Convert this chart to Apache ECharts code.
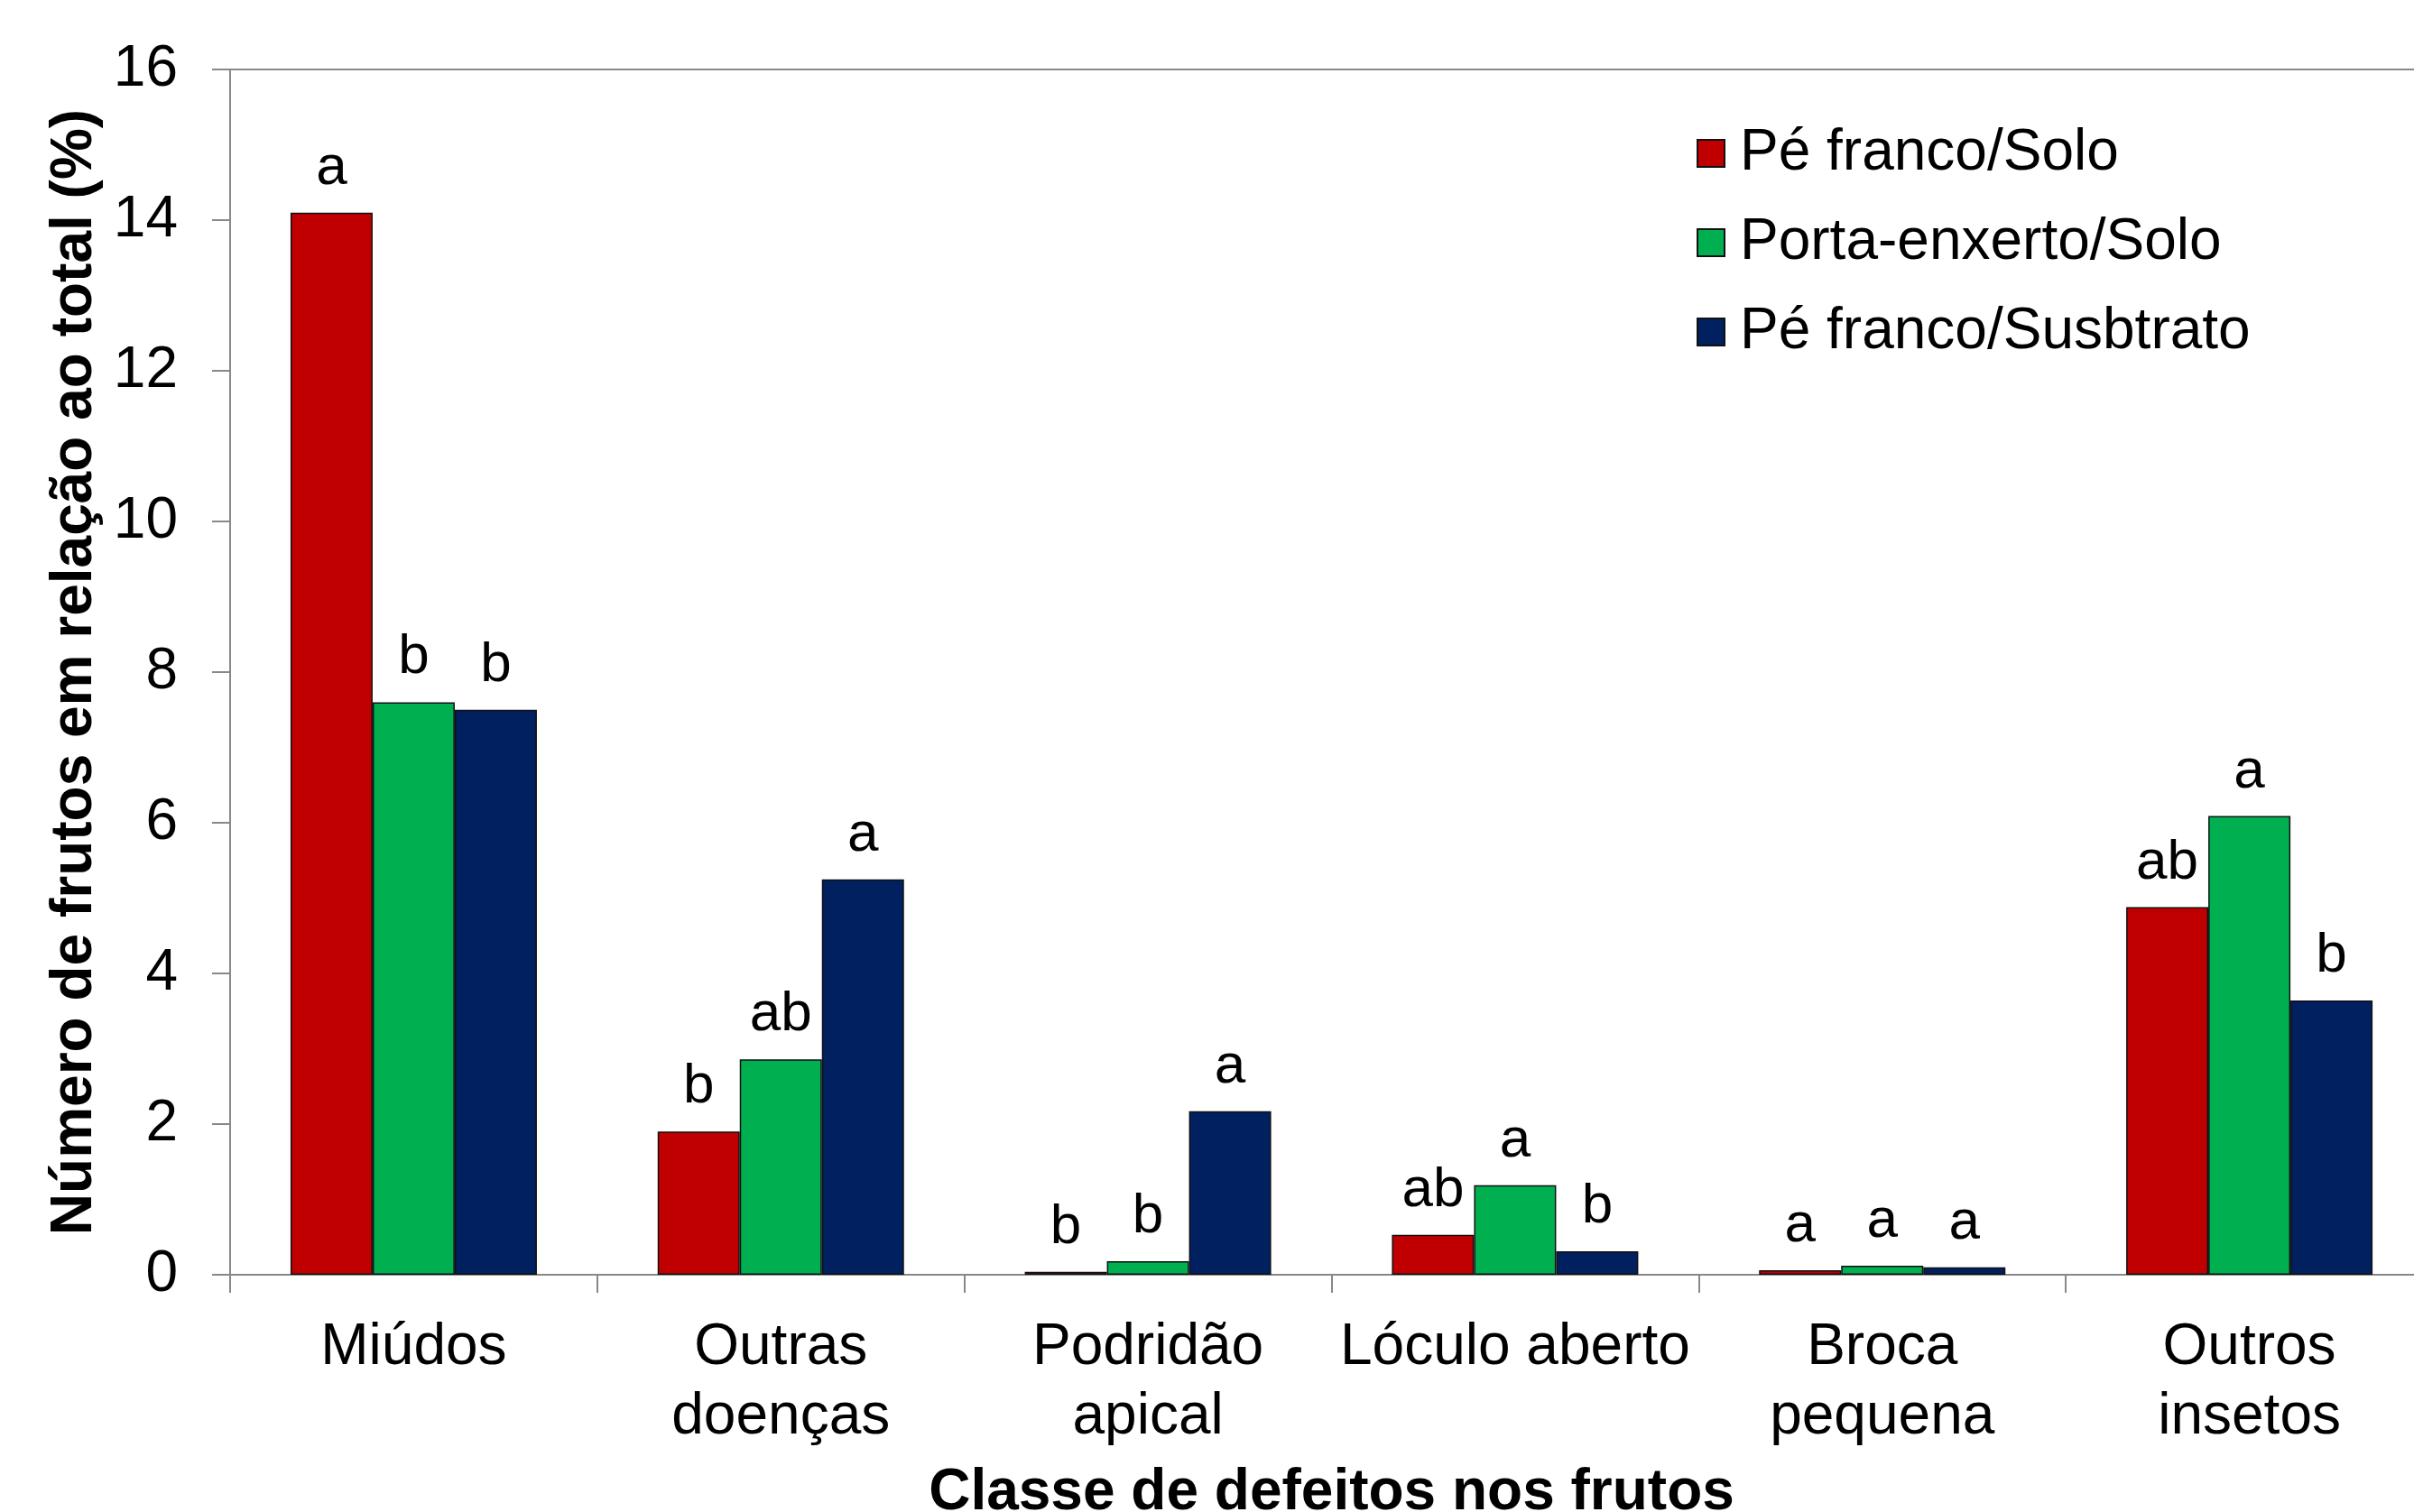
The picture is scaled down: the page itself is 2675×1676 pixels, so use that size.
<!DOCTYPE html>
<html>
<head>
<meta charset="utf-8">
<script src="https://cdn.jsdelivr.net/npm/echarts@6/dist/echarts.min.js"></script>
<style>
html,body{margin:0;padding:0;background:#fff;}
#chart{width:2675px;height:1676px;}
</style>
</head>
<body>
<div id="chart"></div>
<script>
const categories = ['Miúdos', 'Outras\ndoenças', 'Podridão\napical', 'Lóculo aberto', 'Broca\npequena', 'Outros\ninsetos'];
const seriesNames = ['Pé franco/Solo', 'Porta-enxerto/Solo', 'Pé franco/Susbtrato'];
const peFrancoSolo = [14.10, 1.90, 0.04, 0.53, 0.06, 4.88];
const portaEnxertoSolo = [7.60, 2.86, 0.18, 1.19, 0.12, 6.09];
const peFrancoSubstrato = [7.50, 5.25, 2.17, 0.31, 0.10, 3.64];
const lettersPeFrancoSolo = ['a', 'b', 'b', 'ab', 'a', 'ab'];
const lettersPortaEnxertoSolo = ['b', 'ab', 'b', 'a', 'a', 'a'];
const lettersPeFrancoSubstrato = ['b', 'a', 'a', 'b', 'a', 'b'];
const yTicks = [0, 2, 4, 6, 8, 10, 12, 14, 16];
const colors = ['#C00000', '#00B050', '#002060'];

const FONT = '"Liberation Sans", Arial, sans-serif';
const chart = echarts.init(document.getElementById('chart'));

function mkSeries(name, values, letters, color) {
  return {
    name: name,
    type: 'bar',
    data: values,
    barWidth: 91,
    barGap: '0%',
    itemStyle: { color: color, borderColor: '#111', borderWidth: 1.5 },
    label: {
      show: true,
      position: 'top',
      distance: 18,
      formatter: p => letters[p.dataIndex],
      fontFamily: FONT,
      fontSize: 62,
      color: '#000'
    }
  };
}

chart.setOption({
  animation: false,
  backgroundColor: '#fff',
  textStyle: { fontFamily: FONT },
  grid: {
    left: 255, width: 2441, top: 77, bottom: 263,
    containLabel: false,
    outerBoundsMode: 'none',
    show: true, borderColor: '#888', borderWidth: 2, backgroundColor: 'transparent'
  },
  legend: {
    orient: 'vertical',
    left: 1875, top: 133,
    itemWidth: 30, itemHeight: 30, itemGap: 35,
    icon: 'rect',
    textStyle: { fontFamily: FONT, fontSize: 64, color: '#000', padding: [0, 0, 0, 12] },
    data: seriesNames
  },
  xAxis: {
    type: 'category',
    data: categories,
    name: 'Classe de defeitos nos frutos',
    nameLocation: 'middle',
    nameGap: 210,
    nameTextStyle: { fontFamily: FONT, fontSize: 64, fontWeight: 'bold', color: '#000' },
    axisLine: { lineStyle: { color: '#888', width: 2 } },
    axisTick: { show: true, length: 20, lineStyle: { color: '#888', width: 2 } },
    axisLabel: { fontFamily: FONT, fontSize: 64, color: '#000', margin: 43, lineHeight: 77, interval: 0 }
  },
  yAxis: {
    type: 'value',
    min: 0, max: 16, interval: 2,
    name: 'Número de frutos em relação ao total (%)',
    nameLocation: 'middle',
    nameGap: 138,
    nameTextStyle: { fontFamily: FONT, fontSize: 64, fontWeight: 'bold', color: '#000' },
    axisLine: { show: true, lineStyle: { color: '#888', width: 2 } },
    axisTick: { show: true, length: 20, lineStyle: { color: '#888', width: 2 } },
    splitLine: { show: false },
    axisLabel: {
      fontFamily: FONT, fontSize: 64, color: '#000', margin: 58,
      formatter: v => (yTicks.indexOf(v) >= 0 ? String(v) : '')
    }
  },
  series: [
    mkSeries(seriesNames[0], peFrancoSolo, lettersPeFrancoSolo, colors[0]),
    mkSeries(seriesNames[1], portaEnxertoSolo, lettersPortaEnxertoSolo, colors[1]),
    mkSeries(seriesNames[2], peFrancoSubstrato, lettersPeFrancoSubstrato, colors[2])
  ]
});
</script>
</body>
</html>
